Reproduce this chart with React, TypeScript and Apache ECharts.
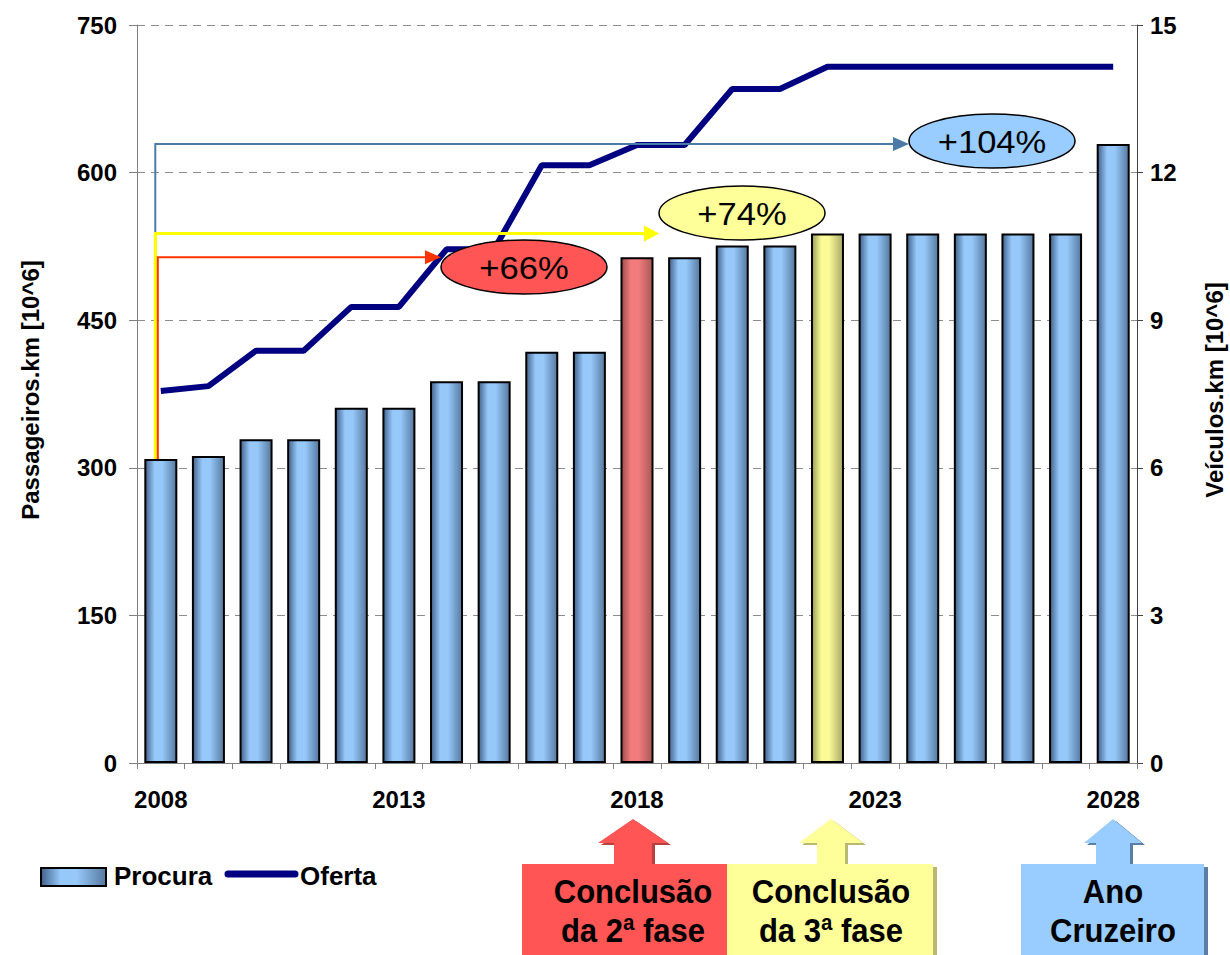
import React, { useEffect, useRef } from "react";
import * as echarts from "echarts";

const years = [
  "2008", "2009", "2010", "2011", "2012", "2013", "2014", "2015", "2016", "2017",
  "2018", "2019", "2020", "2021", "2022", "2023", "2024", "2025", "2026", "2027", "2028",
];
// Procura (Passageiros.km, 10^6) – left axis
const procura = [309, 312, 329, 329, 361, 361, 388, 388, 418, 418, 514, 514, 526, 526, 538, 538, 538, 538, 538, 538, 629];
// Oferta (Veículos.km, 10^6) – right axis
const oferta = [7.56, 7.66, 8.38, 8.38, 9.27, 9.27, 10.44, 10.44, 12.15, 12.15, 12.56, 12.56, 13.7, 13.7, 14.15, 14.15, 14.15, 14.15, 14.15, 14.15, 14.15];

const leftAxis = { min: 0, max: 750, interval: 150 };
const rightAxis = { min: 0, max: 15, interval: 3 };

const seriesNames = ["Procura", "Oferta"];
const axisTitles = ["Passageiros.km [10^6]", "Veículos.km [10^6]"];
const growthLabels = ["+66%", "+74%", "+104%"];
const growthTargets = ["2018", "2022", "2028"];
const milestoneLines = [
  ["Conclusão", "da 2ª fase"],
  ["Conclusão", "da 3ª fase"],
  ["Ano", "Cruzeiro"],
];

const FONT = "'Liberation Sans', Arial, Helvetica, sans-serif";

const grad = (a: string, b: string, c: string) =>
  new echarts.graphic.LinearGradient(0, 0, 1, 0, [
    { offset: 0, color: a },
    { offset: 0.3, color: b },
    { offset: 0.55, color: b },
    { offset: 1, color: c },
  ]);

export default function App() {
  const ref = useRef<HTMLDivElement>(null);

  useEffect(() => {
    if (!ref.current) return;
    const chart = echarts.init(ref.current, null, { renderer: "svg" });

    const blue = () => grad("#42628a", "#96c8fa", "#56799f");
    const red = () => grad("#9c4c4c", "#f27c7c", "#a85858");
    const yellow = () => grad("#9a9a5a", "#fafa96", "#a8a868");

    const barData = procura.map((v, i) => {
      if (years[i] === "2018") return { value: v, itemStyle: { color: red() } };
      if (years[i] === "2022") return { value: v, itemStyle: { color: yellow() } };
      return v;
    });

    const labelStyle = { fontFamily: FONT, fontWeight: "bold" as const, fontSize: 24, color: "#000" };

    chart.setOption({
      animation: false,
      textStyle: { fontFamily: FONT },
      grid: { left: 137, right: 93, top: 25, bottom: 192, containLabel: false },
      xAxis: {
        type: "category",
        data: years,
        boundaryGap: true,
        axisLine: { lineStyle: { color: "#808080", width: 1 } },
        axisTick: { show: true, interval: 0, length: 6, lineStyle: { color: "#808080" } },
        axisLabel: { ...labelStyle, interval: 4, margin: 24 },
        splitLine: { show: false },
      },
      yAxis: [
        {
          type: "value",
          ...leftAxis,
          axisLine: { show: true, lineStyle: { color: "#808080", width: 1 } },
          axisTick: { show: true, length: 8, lineStyle: { color: "#808080" } },
          axisLabel: { ...labelStyle, margin: 20 },
          splitLine: { show: true, lineStyle: { color: "#8c8c8c", type: [8, 6], width: 1 } },
        },
        {
          type: "value",
          ...rightAxis,
          position: "right",
          axisLine: { show: true, lineStyle: { color: "#404040", width: 1 } },
          axisTick: { show: true, length: 6, lineStyle: { color: "#404040" } },
          axisLabel: { ...labelStyle, margin: 13 },
          splitLine: { show: false },
        },
      ],
      series: [
        {
          name: seriesNames[0],
          type: "bar",
          yAxisIndex: 0,
          barWidth: 33,
          data: barData,
          itemStyle: { color: blue(), borderColor: "#000", borderWidth: 2 },
          z: 2,
        },
        {
          name: seriesNames[1],
          type: "line",
          yAxisIndex: 1,
          data: oferta,
          symbol: "none",
          lineStyle: { color: "#000080", width: 6 },
          itemStyle: { color: "#000080" },
          z: 3,
        },
      ],
    });

    // Annotation positions derived from the data via the axes
    const base = chart.convertToPixel({ xAxisIndex: 0, yAxisIndex: 0 }, [0, procura[0]]) as number[];
    const targetY = growthTargets.map((yr) => {
      const idx = years.indexOf(yr);
      return (chart.convertToPixel({ xAxisIndex: 0, yAxisIndex: 0 }, [idx, procura[idx]]) as number[])[1];
    });
    const [yRed, yYel, yBlue] = targetY;
    const vx1 = base[0] - 5.5;
    const vx2 = base[0] - 3;

    const connector = (x: number, yEnd: number, xHead: number, xTip: number, color: string, w: number, hh: number) => [
      {
        type: "polyline",
        z: 10,
        shape: { points: [[x, base[1]], [x, yEnd], [xHead, yEnd]] },
        style: { stroke: color, lineWidth: w, fill: null },
      },
      {
        type: "polygon",
        z: 10,
        shape: { points: [[xHead, yEnd - hh], [xTip, yEnd], [xHead, yEnd + hh]] },
        style: { fill: color },
      },
    ];

    const bubble = (cx: number, cy: number, fill: string, text: string) => [
      {
        type: "ellipse",
        z: 11,
        shape: { cx, cy, rx: 83, ry: 27 },
        style: { fill, stroke: "#000", lineWidth: 1.5 },
      },
      {
        type: "text",
        z: 12,
        x: cx,
        y: cy + 1,
        scaleX: 1.08,
        style: { text, fontFamily: FONT, fontSize: 32, fill: "#000", align: "center", verticalAlign: "middle" },
      },
    ];

    const milestone = (
      bx: number, bw: number, cx: number, head: number, stem: number,
      fill: string, shade: string, lines: string[]
    ) => {
      const arrow = (dx: number, dy: number) => [
        [cx - head + dx, 843 + dy], [cx + dx, 819 + dy], [cx + head + dx, 843 + dy],
        [cx + stem + dx, 843 + dy], [cx + stem + dx, 866 + dy], [cx - stem + dx, 866 + dy],
        [cx - stem + dx, 843 + dy],
      ];
      const txt = (t: string, y: number) => ({
        type: "text", z: 7, x: cx, y, scaleX: 0.94,
        style: { text: t, fontFamily: FONT, fontWeight: "bold", fontSize: 33, fill: "#000", align: "center", verticalAlign: "middle" },
      });
      return [
        { type: "polygon", z: 5, shape: { points: arrow(3, 2) }, style: { fill: shade } },
        { type: "rect", z: 5, shape: { x: bx + 4, y: 867, width: bw, height: 95 }, style: { fill: shade } },
        { type: "polygon", z: 6, shape: { points: arrow(0, 0) }, style: { fill } },
        { type: "rect", z: 6, shape: { x: bx, y: 864, width: bw, height: 95 }, style: { fill } },
        txt(lines[0], 892),
        txt(lines[1], 931),
      ];
    };

    const graphic: any[] = [
      ...connector(vx1, yBlue, 893, 909, "#4a7aa8", 2, 7),
      ...connector(vx1, yYel, 644, 659, "#ffff00", 3, 8),
      ...connector(vx2, yRed, 425, 441, "#ff3300", 2, 7),
      ...bubble(524, 267, "#ff5555", growthLabels[0]),
      ...bubble(742, 213, "#ffff99", growthLabels[1]),
      ...bubble(992, 141, "#99ccff", growthLabels[2]),
      // axis titles
      {
        type: "text", x: 30, y: 390, rotation: Math.PI / 2,
        style: { text: axisTitles[0], fontFamily: FONT, fontWeight: "bold", fontSize: 24, fill: "#000", align: "center", verticalAlign: "middle" },
      },
      {
        type: "text", x: 1214, y: 390, rotation: Math.PI / 2,
        style: { text: axisTitles[1], fontFamily: FONT, fontWeight: "bold", fontSize: 24, fill: "#000", align: "center", verticalAlign: "middle" },
      },
      // legend
      {
        type: "rect", shape: { x: 41, y: 868, width: 65, height: 18 },
        style: { fill: grad("#42628a", "#96c8fa", "#56799f"), stroke: "#000", lineWidth: 2 },
      },
      {
        type: "text", x: 114, y: 876,
        style: { text: seriesNames[0], fontFamily: FONT, fontWeight: "bold", fontSize: 26, fill: "#000", align: "left", verticalAlign: "middle" },
      },
      {
        type: "line", shape: { x1: 228, y1: 874, x2: 295, y2: 874 },
        style: { stroke: "#000080", lineWidth: 7, lineCap: "round" },
      },
      {
        type: "text", x: 300, y: 876,
        style: { text: seriesNames[1], fontFamily: FONT, fontWeight: "bold", fontSize: 26, fill: "#000", align: "left", verticalAlign: "middle" },
      },
      // milestones
      ...milestone(522, 205, 633, 35, 19, "#ff5555", "#b84040", milestoneLines[0]),
      ...milestone(727, 206, 831, 32, 14, "#ffff99", "#b8b870", milestoneLines[1]),
      ...milestone(1021, 183, 1113, 29, 17, "#99ccff", "#5a7ea6", milestoneLines[2]),
    ];

    chart.setOption({ graphic });

    return () => chart.dispose();
  }, []);

  return <div ref={ref} style={{ position: "absolute", left: 0, top: 0, width: 1230, height: 955 }} />;
}
